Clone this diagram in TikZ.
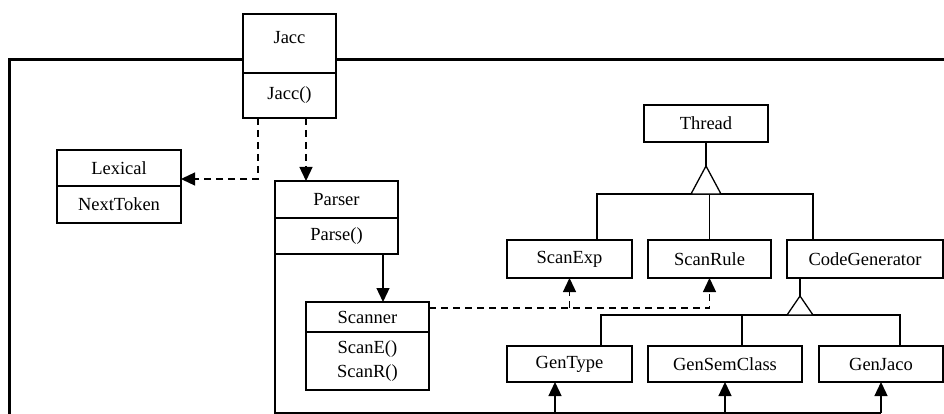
\documentclass[tikz,border=0pt]{standalone}
\usepackage{fontspec}
\setmainfont{Liberation Serif}
\usetikzlibrary{arrows.meta}
\tikzset{
  cls/.style={draw, line width=1.3pt, fill=white, anchor=north west,
    inner sep=0pt, outer sep=0pt, align=center,
    font=\fontsize{18.5}{24}\selectfont},
  divider/.style={line width=2.6pt},
  frame/.style={line width=3pt},
  link/.style={line width=1.3pt},
  uses/.style={link, dash pattern=on 7pt off 5pt,
    -{Triangle[width=13pt,length=14pt]}},
  calls/.style={link, -{Triangle[width=13pt,length=14pt]}},
}
\begin{document}
\begin{tikzpicture}[x=1pt,y=-1pt]
      \useasboundingbox (0,0) rectangle (944,414);
      \draw[frame] (9,416) -- (9,60) -- (946,60);
      \node[cls, minimum width=93pt, minimum height=59pt, text height=13pt, text depth=12pt] (jaccn) at (243,14) {Jacc};
      \node[cls, minimum width=93pt, minimum height=45pt] (jaccm) at (243,73) {Jacc()};
      \node[cls, minimum width=124pt, minimum height=36pt] (lexn) at (57,150) {Lexical};
      \node[cls, minimum width=124pt, minimum height=37pt] (lexm) at (57,186) {NextToken};
      \node[cls, minimum width=123pt, minimum height=37pt] (parn) at (275,181) {Parser};
      \node[cls, minimum width=123pt, minimum height=36pt] (parm) at (275,218) {Parse()};
      \node[cls, minimum width=123pt, minimum height=30pt] (scann) at (306,302) {Scanner};
      \node[cls, minimum width=123pt, minimum height=58pt] (scanm) at (306,332) {ScanE()\\ScanR()};
      \node[cls, minimum width=124pt, minimum height=37pt] (thread) at (644,105) {Thread};
      \node[cls, minimum width=125pt, minimum height=38pt] (scanexp) at (507,240) {ScanExp};
      \node[cls, minimum width=123pt, minimum height=38pt] (scanrule) at (648,240) {ScanRule};
      \node[cls, minimum width=156pt, minimum height=38pt] (codegen) at (787,240) {CodeGenerator};
      \node[cls, minimum width=125pt, minimum height=36pt] (gentype) at (507,346) {GenType};
      \node[cls, minimum width=154pt, minimum height=36pt] (gensem) at (648,346) {GenSemClass};
      \node[cls, minimum width=124pt, minimum height=36pt] (genjaco) at (819,346) {GenJaco};
      \draw[divider] (jaccm.north west) -- (jaccm.north east);
      \draw[divider] (lexm.north west) -- (lexm.north east);
      \draw[divider] (parm.north west) -- (parm.north east);
      \draw[divider] (scanm.north west) -- (scanm.north east);
      \coordinate (jl) at ([xshift=-31.5pt]jaccm.south);
      \coordinate (jp) at ([xshift=-30.5pt]parn.north);
      \draw[uses] (jl) |- ([yshift=-11pt]lexn.east);
      \draw[uses] (jp |- jaccm.south) -- (jp);
      \coordinate (pp) at ([xshift=46.5pt]parm.south);
      \draw[calls] (pp) -- (pp |- scann.north);
      \coordinate (sd) at ([yshift=9pt]scann.east);
      \draw[uses] (sd) -| (scanrule.south);
      \draw[uses] (sd -| scanexp.south) -- (scanexp.south);
      \coordinate (busl) at (parm.south west |- 0,413);
      \coordinate (busr) at (genjaco.south |- busl);
      \draw[link] (parm.south west) -- (busl) -- (busr);
      \coordinate (gt) at ([xshift=-14.5pt]gentype.south);
      \draw[calls] (gt |- busl) -- (gt);
      \draw[calls] (gensem.south |- busl) -- (gensem.south);
      \draw[calls] (busr) -- (genjaco.south);
      \coordinate (thtip) at ([yshift=-24pt]thread.south);
      \coordinate (thbar) at ([yshift=-28pt]thtip);
      \coordinate (se) at ([xshift=27.5pt]scanexp.north);
      \coordinate (cg) at ([xshift=-52pt]codegen.north);
      \draw[link] (thread.south) -- (thtip);
      \draw[link] (se) |- (thbar) -| (cg);
      \draw[link] (scanrule.north) -- (scanrule.north |- thbar);
      \draw[link, fill=white] (thtip) -- ++(-15,28) -- ++(30,0) -- cycle;
      \coordinate (cgtop) at ([xshift=-65pt]codegen.south);
      \coordinate (cgtip) at ([yshift=-18pt]cgtop);
      \coordinate (cgbar) at ([yshift=-19pt]cgtip);
      \coordinate (gtl) at ([xshift=31.5pt]gentype.north);
      \coordinate (gsl) at ([xshift=17pt]gensem.north);
      \coordinate (gjl) at ([xshift=19pt]genjaco.north);
      \draw[link] (cgtop) -- (cgtip);
      \draw[link] (gtl) |- (cgbar) -| (gjl);
      \draw[link] (gsl) -- (gsl |- cgbar);
      \draw[link, fill=white] (cgtip) -- ++(-13,19) -- ++(26,0) -- cycle;
    \end{tikzpicture}
\end{document}
